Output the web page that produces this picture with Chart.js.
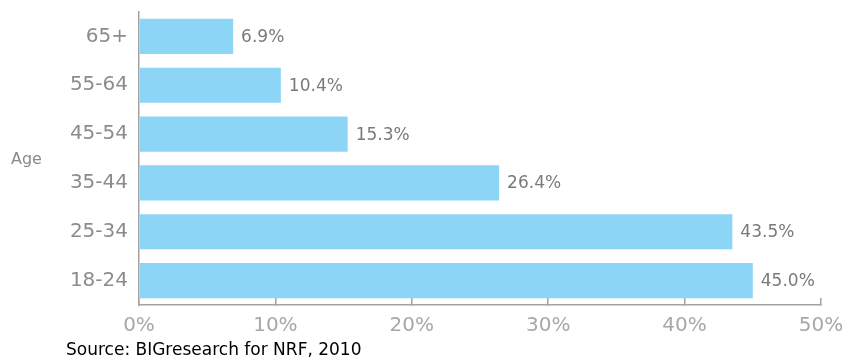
<!DOCTYPE html>
<html>
<head>
<meta charset="utf-8">
<script src="https://cdn.jsdelivr.net/npm/chart.js@4/dist/chart.umd.min.js"></script>
<style>
  html, body { margin: 0; padding: 0; background: #fff; }
  #wrap { position: relative; width: 847px; height: 360px; }
</style>
</head>
<body>
<div id="wrap"><canvas id="ageChart" width="847" height="360"></canvas></div>
<script>
// ----------------------------------------------------
// DATA
// ----------------------------------------------------
const ageGroups = ['65+', '55-64', '45-54', '35-44', '25-34', '18-24'];
const shareValues = [6.9, 10.4, 15.3, 26.4, 43.5, 45.0];
const xTicks = [0, 10, 20, 30, 40, 50];
const axisTitle = 'Age';
const sourceNote = 'Source: BIGresearch for NRF, 2010';

const barColor = '#8dd5f6';
const axisColor = '#a3a3a3';

// value labels at bar ends + the loose texts (Age, source)
const extrasPlugin = {
    id: 'extras',
    afterDatasetsDraw(chart) {
        const ctx = chart.ctx;
        const meta = chart.getDatasetMeta(0);
        ctx.save();
        ctx.font = '17px "DejaVu Sans"';
        ctx.fillStyle = '#7a7a7a';
        ctx.textAlign = 'left';
        ctx.textBaseline = 'middle';
        meta.data.forEach((bar, i) => {
            ctx.fillText(shareValues[i].toFixed(1) + '%', bar.x + 8, bar.y + 1);
        });

        ctx.font = '16px "DejaVu Sans"';
        ctx.fillStyle = '#8a8a8a';
        ctx.fillText(axisTitle, 11, 160);

        ctx.font = '17px "DejaVu Sans"';
        ctx.fillStyle = '#000';
        ctx.textBaseline = 'alphabetic';
        ctx.fillText(sourceNote, 66, 355);
        ctx.restore();
    }
};

// keep label overflow from squeezing the plot area
function noPad(s) {
    s.paddingTop = 0; s.paddingBottom = 0; s.paddingLeft = 0; s.paddingRight = 0;
}

new Chart(document.getElementById('ageChart'), {
    type: 'bar',
    data: {
        labels: ageGroups,
        datasets: [{
            data: shareValues,
            backgroundColor: barColor,
            borderWidth: 0,
            barPercentage: 0.72,
            categoryPercentage: 1
        }]
    },
    options: {
        indexAxis: 'y',
        responsive: false,
        animation: false,
        layout: { padding: { top: 12, right: 26, left: 0, bottom: 0 } },
        plugins: { legend: { display: false }, tooltip: { enabled: false } },
        scales: {
            x: {
                min: 0, max: 50,
                afterBuildTicks: (s) => { s.ticks = xTicks.map(v => ({ value: v })); },
                afterFit: (s) => { s.height = 55; noPad(s); },
                grid: { drawOnChartArea: false, drawTicks: true, tickLength: -7, color: axisColor, lineWidth: 1.5 },
                border: { color: axisColor, width: 1.5 },
                ticks: {
                    padding: 16,
                    color: '#a8a8a8',
                    font: { family: '"DejaVu Sans"', size: 20 },
                    callback: (v) => v + '%'
                }
            },
            y: {
                afterFit: (s) => { s.width = 139; noPad(s); },
                grid: { display: false, drawTicks: false },
                border: { color: axisColor, width: 1.5 },
                ticks: {
                    padding: 11,
                    color: '#8c8c8c',
                    font: { family: '"DejaVu Sans"', size: 20 }
                }
            }
        }
    },
    plugins: [extrasPlugin]
});
</script>
</body>
</html>
